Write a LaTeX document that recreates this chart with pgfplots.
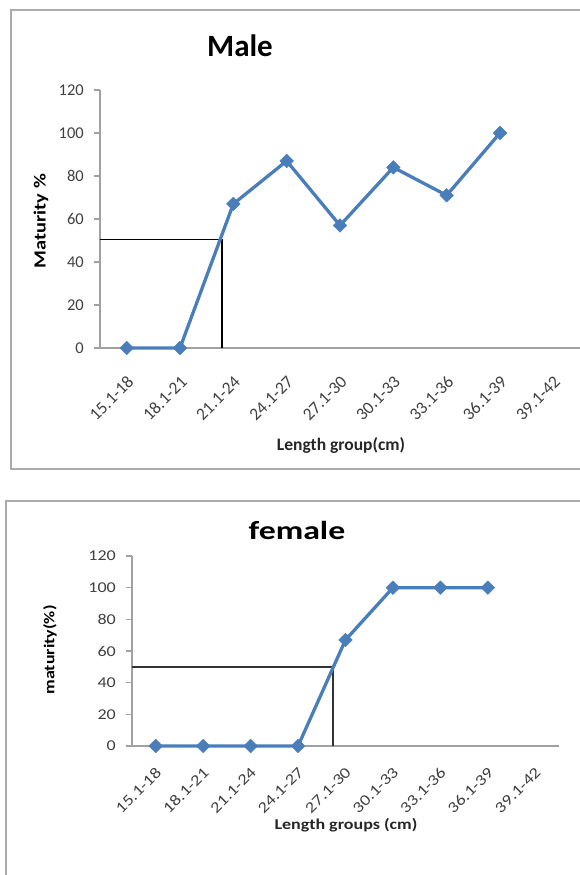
\documentclass[border=0pt]{standalone}
\usepackage{fontspec}
\setmainfont{Carlito}
\newfontfamily\widea[FakeStretch=1.2]{Carlito}
\newfontfamily\wideb[FakeStretch=1.3]{Carlito}
\usepackage{pgfplots}
\pgfplotsset{compat=1.18}
\definecolor{ser}{HTML}{4A7EBB}
\definecolor{tickc}{HTML}{404040}
\definecolor{axl}{HTML}{A0A0A0}
\definecolor{frm}{HTML}{ABABAB}
\pgfplotsset{
  mystyle/.style={
    anchor=south west, scale only axis, clip=false,
    xmin=-0.5, xmax=8.5, ymin=0, ymax=120,
    axis x line*=bottom, axis y line*=left,
    axis line style={-, draw=axl, line width=1.2pt},
    ytick={0,20,...,120},
    xtick={0,...,8},
    xticklabels={15.1-18,18.1-21,21.1-24,24.1-27,27.1-30,30.1-33,33.1-36,36.1-39,39.1-42},
    x tick style={draw=none},
    y tick style={draw=axl, line width=1.2pt},
    tick align=outside, major tick length=6pt,
    /pgf/number format/assume math mode=true,
  },
  serstyle/.style={ser, line width=3.3pt, mark=square*, mark size=4.8pt,
    mark options={rotate=45, fill=ser, draw=ser, line width=0.5pt}},
}
\begin{document}
\begin{tikzpicture}[x=1pt,y=1pt]
\useasboundingbox (0,0) rectangle (580,875);
\begin{scope}
\clip (0,0) rectangle (580,875);
\draw[frm, line width=1.8pt] (11,406) rectangle (620,865);
\draw[frm, line width=1.8pt] (6,-30) rectangle (620,374);
\end{scope}

% ---------------- Male ----------------
\begin{axis}[mystyle, at={(100pt,527pt)}, width=480pt, height=258pt,
  yticklabel style={font=\fontsize{16.5}{16.5}\selectfont, color=tickc, anchor=east, inner sep=0pt, xshift=-10pt},
  xticklabel style={font=\fontsize{17.5}{17.5}\selectfont, color=tickc, inner sep=0pt, xshift=4pt, yshift=-25pt, rotate=45, anchor=east},
]
\addplot[black, line width=1.4pt] coordinates {(-0.5,50.5) (1.79,50.5) (1.79,0)};
\addplot[serstyle] coordinates {(0,0) (1,0) (2,67) (3,87) (4,57) (5,84) (6,71) (7,100)};
\end{axis}
\node[font=\bfseries\fontsize{31}{31}\selectfont, anchor=base] at (240,875-57) {Male};
\node[font=\bfseries\fontsize{17.5}{17.5}\selectfont, anchor=base, color=black!85] at (341,875-451) {Length group(cm)};
\node[font=\widea\bfseries\fontsize{17}{17}\selectfont, rotate=90] at (41,875-221) {Maturity \%};

% ---------------- Female ----------------
\begin{axis}[mystyle, at={(132pt,129pt)}, width=427pt, height=190pt,
  yticklabel style={font=\widea\fontsize{15}{15}\selectfont, color=tickc, anchor=east, inner sep=0pt, xshift=-10pt},
  xticklabel style={font=\widea\fontsize{15.5}{15.5}\selectfont, color=tickc, inner sep=0pt, xshift=3pt, yshift=-18pt, rotate=45, anchor=east},
]
\addplot[black!80, line width=1.4pt] coordinates {(-0.5,50) (3.74,50) (3.74,0)};
\addplot[serstyle] coordinates {(0,0) (1,0) (2,0) (3,0) (4,67) (5,100) (6,100) (7,100)};
\end{axis}
\node[font=\wideb\bfseries\fontsize{26}{26}\selectfont, anchor=base] at (297,875-540) {female};
\node[font=\widea\bfseries\fontsize{15}{15}\selectfont, anchor=base, color=black!85] at (346,875-830) {Length groups (cm)};
\node[font=\widea\bfseries\fontsize{15}{15}\selectfont, rotate=90] at (50,875-650) {maturity(\%)};
\end{tikzpicture}
\end{document}
